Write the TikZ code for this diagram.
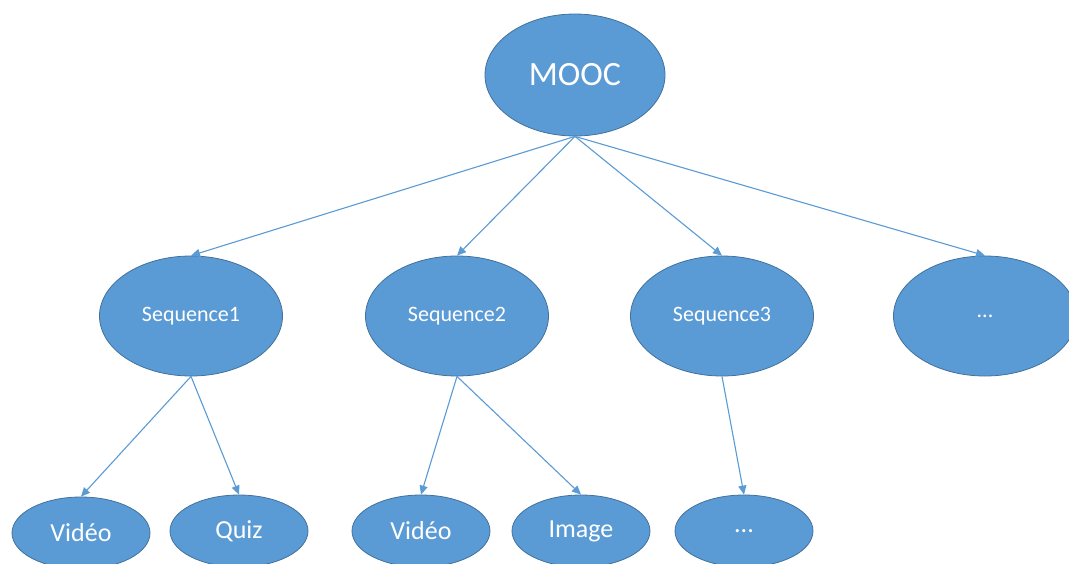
\documentclass[tikz,border=0pt]{standalone}
\usepackage{fontspec}
\setmainfont{Carlito}
\usetikzlibrary{shapes.geometric,arrows.meta}
\definecolor{ofill}{HTML}{5B9BD5}
\definecolor{oline}{HTML}{41719C}
\tikzset{
  oval/.style={ellipse, fill=ofill, draw=oline, line width=0.8pt, text=white, inner sep=0pt},
  big/.style={oval, minimum width=180pt, minimum height=122pt, font=\fontsize{34}{38}\selectfont},
  mid/.style={oval, minimum width=183pt, minimum height=120pt, font=\fontsize{22}{26}\selectfont},
  small/.style={oval, minimum width=138pt, minimum height=72pt, font=\fontsize{26}{30}\selectfont},
  conn/.style={draw=ofill, line width=1.1pt, -{Triangle[length=9pt,width=8pt]}}
}
\begin{document}
\begin{tikzpicture}[x=1pt,y=-1pt]
\useasboundingbox (0,0) rectangle (1069,563);
\clip (0,0) rectangle (1069,563);
\fill[white] (0,0) rectangle (1069,563);
\node[big] (mooc) at (575,75) {MOOC};
\node[mid] (s1) at (191,316) {Sequence1};
\node[mid] (s2) at (457,316) {Sequence2};
\node[mid] (s3) at (722,316) {Sequence3};
\node[mid] (s4) at (985,316) {...};
\node[small] (v1) at (81,533) {Vidéo};
\node[small] (q1) at (239,531) {Quiz};
\node[small] (v2) at (421,531) {Vidéo};
\node[small] (i2) at (581,531) {Image};
\node[small] (d3) at (744,531) {...};
\draw[conn] (mooc.south) -- (s1.north);
\draw[conn] (mooc.south) -- (s2.north);
\draw[conn] (mooc.south) -- (s3.north);
\draw[conn] (mooc.south) -- (s4.north);
\draw[conn] (s1.south) -- (v1.north);
\draw[conn] (s1.south) -- (q1.north);
\draw[conn] (s2.south) -- (v2.north);
\draw[conn] (s2.south) -- (i2.north);
\draw[conn] (s3.south) -- (d3.north);
\end{tikzpicture}
\end{document}
